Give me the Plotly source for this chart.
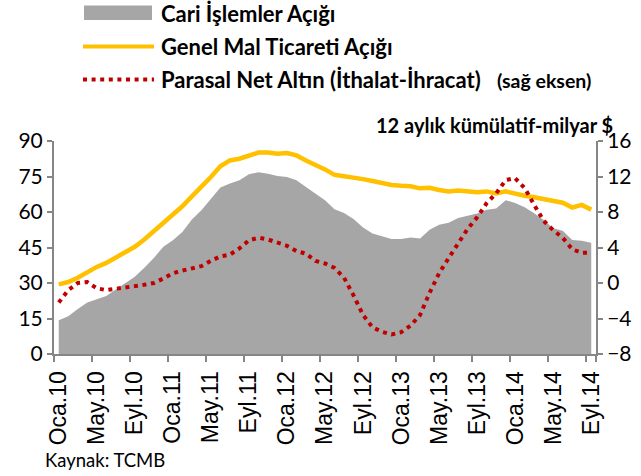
import plotly.graph_objects as go

# ---- data ----
month_abbr = ["Oca", "Şub", "Mar", "Nis", "May", "Haz", "Tem", "Ağu", "Eyl", "Eki", "Kas", "Ara"]
years = ["10", "11", "12", "13", "14"]
categories = [f"{m}.{y}" for y in years for m in month_abbr][:57]  # Oca.10 .. Eyl.14

cari_islemler = [14.3, 16.0, 19.0, 21.8, 23.1, 24.5, 27.3, 29.8, 32.6, 36.4,
                 40.6, 45.3, 48.1, 51.6, 56.8, 60.7, 65.7, 70.3, 72.0, 73.4,
                 75.9, 76.8, 76.2, 75.2, 74.8, 73.4, 70.6, 67.8, 65.0, 61.2,
                 59.6, 57.0, 53.5, 50.9, 49.7, 48.6, 48.6, 49.2, 48.8, 52.5,
                 54.6, 55.5, 57.5, 58.6, 59.4, 60.9, 61.5, 65.0, 63.8, 62.0,
                 59.5, 56.6, 53.1, 52.1, 48.2, 47.9, 47.0]

genel_mal = [29.4, 30.4, 32.2, 34.7, 36.8, 38.5, 40.6, 42.7, 45.3, 48.4,
             51.9, 55.5, 58.6, 62.4, 66.6, 70.6, 74.8, 79.3, 81.8, 82.5,
             83.9, 85.1, 85.1, 84.6, 84.9, 83.9, 81.8, 80.1, 78.0, 75.7,
             75.1, 74.8, 73.9, 73.1, 72.3, 71.4, 71.1, 70.9, 70.0, 70.2,
             69.3, 68.7, 69.1, 68.6, 68.3, 68.7, 67.8, 68.7, 67.7, 66.9,
             66.2, 65.5, 64.5, 63.9, 61.9, 63.0, 61.0]

parasal_altin = [-2.2, -0.8, 0.0, 0.1, -0.6, -0.8, -0.65, -0.55, -0.35, -0.2,
                 0.0, 0.5, 1.1, 1.4, 1.7, 1.9, 2.5, 3.0, 3.2, 3.9,
                 4.8, 5.1, 4.9, 4.6, 4.2, 3.6, 3.3, 2.5, 2.2, 1.7,
                 0.6, -1.4, -3.6, -5.0, -5.5, -5.8, -5.55, -4.8, -3.6, -1.1,
                 1.1, 2.8, 4.4, 6.1, 7.4, 9.0, 10.1, 11.6, 11.8, 10.7,
                 8.8, 7.0, 5.95, 5.1, 3.8, 3.4, 3.4]

left_ticks = [0, 15, 30, 45, 60, 75, 90]
right_ticks = [-8, -4, 0, 4, 8, 12, 16]
label_cats = categories[::4]

series_names = ["Cari İşlemler Açığı", "Genel Mal Ticareti Açığı",
                "Parasal Net Altın (İthalat-İhracat)"]

GRAY = "#A6A6A6"
GOLD = "#FFC000"
RED = "#C00000"
AXIS = "#868686"
CAL = "Lato, 'Open Sans', sans-serif"
DOTS = "4px,4.6px"

fig = go.Figure()
fig.add_trace(go.Scatter(x=categories, y=cari_islemler, name=series_names[0],
                         mode="lines", fill="tozeroy", fillcolor=GRAY,
                         line=dict(width=0, color=GRAY), yaxis="y"))
fig.add_trace(go.Scatter(x=categories, y=genel_mal, name=series_names[1],
                         mode="lines", line=dict(width=4.5, color=GOLD), yaxis="y"))
fig.add_trace(go.Scatter(x=categories, y=parasal_altin, name=series_names[2],
                         mode="lines", line=dict(width=4, color=RED, dash=DOTS),
                         yaxis="y2"))

# plot area in pixels
X0, X1, YT, YB = 54, 596, 141, 354
W, H = 641, 476


def px(x):
    return (x - X0) / (X1 - X0)


def py(y):
    return (YB - y) / (YB - YT)


shapes = [
    dict(type="rect", xref="paper", yref="paper", x0=px(84), x1=px(152),
         y0=py(20), y1=py(5.5), fillcolor=GRAY, line=dict(width=0)),
    dict(type="line", xref="paper", yref="paper", x0=px(83), x1=px(154),
         y0=py(46.5), y1=py(46.5), line=dict(color=GOLD, width=4)),
    dict(type="line", xref="paper", yref="paper", x0=px(83), x1=px(154),
         y0=py(79.5), y1=py(79.5), line=dict(color=RED, width=4, dash=DOTS)),
]

annotations = [
    dict(text="<b>" + series_names[0] + "</b>", x=px(159), y=py(13),
         xanchor="left", yanchor="middle"),
    dict(text="<b>" + series_names[1] + "</b>", x=px(159), y=py(46),
         xanchor="left", yanchor="middle"),
    dict(text="<b>" + series_names[2] + "</b>", x=px(159), y=py(79),
         xanchor="left", yanchor="middle"),
    dict(text="<b>(sağ eksen)</b>", x=px(495), y=py(81), xanchor="left",
         yanchor="middle", font=dict(size=19.5, family=CAL, color="black")),
    dict(text="<b>12 aylık kümülatif-milyar $</b>", x=px(615), y=py(125),
         xanchor="right", yanchor="middle", font=dict(size=20, family=CAL, color="black")),
    dict(text="Kaynak: TCMB", x=px(43), y=py(460), xanchor="left",
         yanchor="middle", font=dict(size=18.5, family=CAL, color="black")),
]
for a in annotations:
    a.setdefault("font", dict(size=22, family=CAL, color="black"))
    a.update(xref="paper", yref="paper", showarrow=False)

fig.update_layout(
    width=W, height=H,
    margin=dict(l=X0, r=W - X1, t=YT, b=H - YB, pad=0),
    paper_bgcolor="white", plot_bgcolor="white",
    showlegend=False,
    shapes=shapes, annotations=annotations,
    xaxis=dict(type="category", categoryorder="array", categoryarray=categories,
               range=[-0.5, len(categories) - 0.5],
               tickmode="array", tickvals=label_cats, ticktext=label_cats,
               tickson="boundaries", ticks="outside", ticklen=6, tickwidth=1.5,
               tickcolor=AXIS, tickangle=-90, ticklabelstandoff=6,
               tickfont=dict(family="'Liberation Sans', Arial, sans-serif", size=23, color="black"),
               showline=True, linecolor=AXIS, linewidth=2, showgrid=False,
               zeroline=False, automargin=False),
    yaxis=dict(range=[0, 90], tickvals=left_ticks, ticks="outside", ticklen=5,
               tickwidth=1.5, tickcolor=AXIS, showline=True, linecolor=AXIS,
               linewidth=2, showgrid=False, zeroline=False,
               tickfont=dict(family=CAL, size=21, color="black"), automargin=False),
    yaxis2=dict(range=[-8, 16], tickvals=right_ticks, overlaying="y", side="right",
                ticks="outside", ticklen=5, tickwidth=1.5, tickcolor=AXIS,
                showline=True, linecolor=AXIS, linewidth=2, showgrid=False,
                zeroline=False, tickfont=dict(family=CAL, size=21, color="black"),
                automargin=False),
)

fig.write_html("out.html", config={"displayModeBar": False},
               post_script="document.body.style.margin='0px';document.body.style.padding='0px';")
